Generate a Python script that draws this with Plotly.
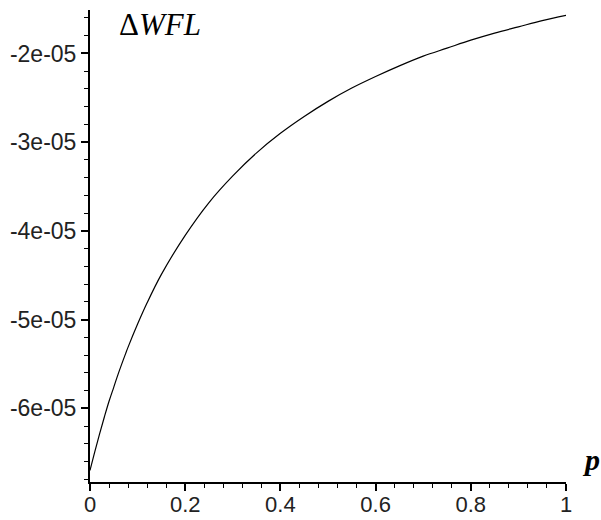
import plotly.graph_objects as go

# Welfare-loss difference as a function of p
p_vals = [0.0, 0.01, 0.02, 0.03, 0.04, 0.05, 0.06, 0.075, 0.08, 0.1, 0.12, 0.15,
          0.2, 0.25, 0.3, 0.35, 0.4, 0.45, 0.5, 0.55, 0.6, 0.65, 0.7, 0.75,
          0.8, 0.85, 0.9, 0.95, 1.0]
dwfl_vals = [-6.70e-05, -6.49e-05, -6.29e-05, -6.10e-05, -5.92e-05, -5.76e-05,
             -5.60e-05, -5.38e-05, -5.31e-05, -5.05e-05, -4.81e-05, -4.49e-05,
             -4.05e-05, -3.68e-05, -3.38e-05, -3.12e-05, -2.90e-05, -2.71e-05,
             -2.54e-05, -2.39e-05, -2.26e-05, -2.14e-05, -2.03e-05, -1.94e-05,
             -1.85e-05, -1.77e-05, -1.70e-05, -1.63e-05, -1.57e-05]

x_tick_vals = [0, 0.2, 0.4, 0.6, 0.8, 1]
x_tick_text = ["0", "0.2", "0.4", "0.6", "0.8", "1"]
y_tick_vals = [-6e-05, -5e-05, -4e-05, -3e-05, -2e-05]
y_tick_text = ["-6e-05", "-5e-05", "-4e-05", "-3e-05", "-2e-05"]

tick_font = dict(family="Liberation Sans, Arial, sans-serif", size=23, color="#222")

fig = go.Figure()
fig.add_trace(go.Scatter(
    x=p_vals, y=dwfl_vals, mode="lines",
    line=dict(color="#000", width=1.2, shape="spline"),
    showlegend=False, hoverinfo="skip",
))

fig.update_layout(
    width=601, height=520,
    margin=dict(l=90, r=35, t=10, b=38),
    paper_bgcolor="white", plot_bgcolor="white",
    xaxis=dict(
        range=[0, 1], showgrid=False, zeroline=False, automargin=False,
        showline=True, linecolor="#000", linewidth=2,
        ticks="outside", ticklen=7, tickwidth=1.5, tickcolor="#000",
        tickvals=x_tick_vals, ticktext=x_tick_text,
        tickfont=dict(tick_font, size=22), ticklabelstandoff=-5,
        minor=dict(ticks="outside", ticklen=4, tickwidth=1.2, tickcolor="#000",
                   dtick=0.04, tick0=0, showgrid=False),
    ),
    yaxis=dict(
        range=[-6.83e-05, -1.51e-05], showgrid=False, zeroline=False, automargin=False,
        showline=True, linecolor="#000", linewidth=2,
        ticks="outside", ticklen=7, tickwidth=1.5, tickcolor="#000",
        tickvals=y_tick_vals, ticktext=y_tick_text, tickfont=tick_font,
        minor=dict(ticks="outside", ticklen=4, tickwidth=1.2, tickcolor="#000",
                   dtick=2e-06, tick0=-6e-05, showgrid=False),
    ),
    annotations=[
        dict(text="Δ<i>WFL</i>", xref="paper", yref="paper",
             x=0.0567, y=0.970, xanchor="left", yanchor="middle",
             showarrow=False,
             font=dict(family="Liberation Serif, Times New Roman, serif", size=31, color="#000")),
        dict(text="<b><i>p</i></b>", xref="paper", yref="paper",
             x=1.0525, y=0.047, xanchor="center", yanchor="middle",
             showarrow=False,
             font=dict(family="Liberation Serif, Times New Roman, serif", size=30, color="#000")),
    ],
)

fig.write_html("out.html")
